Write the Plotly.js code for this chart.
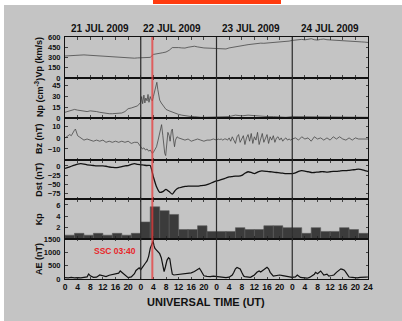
<!DOCTYPE html>
<html><head><meta charset="utf-8">
<script src="https://cdn.plot.ly/plotly-3.0.1.min.js"></script>
<style>html,body{margin:0;padding:0;background:#fff;}#chart{width:402px;height:321px;}</style>
</head><body><div id="chart"></div>
<script>
// ---- data ----
const dayLabels = ['21 JUL 2009','22 JUL 2009','23 JUL 2009','24 JUL 2009'];
const panelTitles = ['Vp (km/s)','Np (cm<sup>-3</sup>)','Bz (nT)','Dst (nT)','Kp','AE (nT)'];
const hourTicks = [0,4,8,12,16,20,24,28,32,36,40,44,48,52,56,60,64,68,72,76,80,84,88,92,96];
const hourTickText = ['0','4','8','12','16','20','0','4','8','12','16','20','0','4','8','12','16','20','0','4','8','12','16','20','24'];
const sscHour = 27.67;
const sscLabel = 'SSC 03:40';

const vpVals = [322,326,330,334,336,336,338,335,332,330,328,326,322,318,312,306,302,300,298,294,290,288,290,294,
296,298,300,302,345,350,358,370,380,405,445,450,445,440,438,450,462,465,455,445,440,438,435,430,
430,425,420,425,440,450,455,465,470,480,488,495,500,505,510,508,512,515,510,518,520,525,530,540,
550,555,560,565,558,570,575,560,555,565,570,560,558,550,555,545,548,540,545,540,535,530,528,525,520];

const npHours = [0,1,2,3,4,5,6,7,8,9,10,11,12,13,14,15,16,17,18,19,20,21,22,23,
24,24.3,24.6,25,25.3,25.6,26,26.3,26.6,27,27.3,27.67,28,28.4,28.8,29.1,29.4,29.7,30,30.5,31,31.5,32,
33,34,35,36,37,38,39,40,41,42,43,44,45,46,47,
48,50,52,54,56,58,60,62,64,66,68,70,72,74,76,78,80,82,84,86,88,90,92,94,96];
const npVals = [8,9,10,12,11,10,9,9,10,10,9,8,7,7,6,6,6,7,7,9,13,14,16,17,
22,30,20,32,21,28,24,33,22,30,26,24,30,38,46,50,40,32,25,21,18,14,12,
10,8,7,5,4,3,3,2,2,1,1,1,1,1,1,
1,1,2,4,3,4,3,2,2,2,1,1,2,2,1,2,2,1,2,2,1,2,2,1,1];

const bzHours = [0,0.5,1,1.5,2,2.5,3,3.3,3.6,4,4.5,5,6,7,8,9,10,11,12,13,14,15,16,17,18,19,20,21,22,23,
24,24.5,25,25.5,26,26.5,27,27.4,27.7,28,28.5,29,29.5,30,30.3,30.6,31,31.3,31.6,31.9,32.2,32.6,33,33.3,33.7,34,34.4,34.7,35,35.5,36,37,38,39,40,41,42,43,44,45,46,47,
48,48.5,49,49.5,50,50.5,51,51.5,52,52.5,53,53.5,54,54.5,55,55.5,56,56.5,57,57.5,58,58.5,59,59.5,
60,60.5,61,61.5,62,62.5,63,63.5,64,64.5,65,65.5,66,66.5,67,67.5,68,68.5,69,69.5,70,70.5,71,71.5,
72,73,74,75,76,77,78,79,80,81,82,83,84,85,86,87,88,89,90,91,92,93,94,95,96];
const bzVals = [0,1,2,3,2,5,7,8,5,2,1,0,-2,-1,-2,-3,-2,-3,-2,-4,-3,-4,-3,-4,-3,-4,-3,-5,-4,-4,
-8,-10,-9,-11,-10,-12,-11,-13,-14,-13,-11,-8,-2,4,9,12,2,-8,-14,-16,-6,5,2,-3,6,8,-2,-8,-2,1,0,-1,-2,-1,-3,-2,-1,-2,-3,-2,-2,-1,
-2,-1,-1.5,-1,-2,-1,-1,-2,0,-3,1,-2,-5,1,3,-4,-1,2,-6,0,3,-3,4,-5,
1,-2,5,-6,-1,4,-4,0,3,-5,1,-2,2,-4,0,1,-2,0,-3,-1,0,-2,-1,-2,
-1,0,-2,1,-1,0,-3,1,-1,0,-2,0,-2,1,-1,1,-1,-2,0,-2,0,-1,-1,-1,-1];

const dstVals = [-7,-4,-1,2,5,6,5,3,2,1,0,0,0,-1,-3,-4,-5,-4,-2,0,1,4,6,4,
3,2,1,1,-30,-57,-72,-70,-64,-70,-77,-66,-60,-58,-56,-55,-55,-55,-55,-54,-53,-51,-48,-44,
-41,-39,-36,-33,-30,-29,-28,-28,-26,-20,-16,-18,-21,-17,-14,-14,-15,-16,-17,-18,-19,-20,-21,-21,
-21,-19,-15,-13,-14,-16,-18,-18,-17,-16,-16,-17,-16,-15,-15,-14,-13,-13,-12,-11,-10,-9,-10,-13,-15];

const kpVals = [0.67,1,0.67,1,0.67,1,0.67,1,
3,5.67,5,4.33,1.67,1.67,2.33,1.33,
1.33,1.33,2,1.67,1.67,2.33,2.33,2,
2,1,2,1.33,1.33,2,1.67,1];

const aeHours = [0,1,2,3,4,5,6,7,7.5,8,9,10,11,12,13,14,15,16,17,17.5,18,19,20,21,22,22.5,23,23.5,
24,24.5,25,25.5,26,26.5,27,27.5,27.9,28.2,28.5,29,29.5,30,30.5,31,31.4,31.8,32.3,32.8,33.2,33.6,34,34.5,35,36,37,38,39,40,41,42,42.6,43,43.5,44,45,46,47,
48,49,50,51,52,53,53.5,54,54.5,55,55.5,56,56.6,57,58,58.7,59,60,60.8,61.5,62,63,63.5,64,64.5,65,66,67,68,69,70,71,
72,73,73.6,74.6,75.5,76.7,77.5,78.3,79,79.4,80,81,81.5,82,83,83.6,84.5,85.2,86,86.8,87.4,87.9,88.5,88.9,89.5,90,91,92,92.6,93.5,94.5,95.3,96];
const aeVals = [50,40,60,40,50,40,60,80,190,120,60,70,150,110,90,140,160,180,220,300,250,120,50,80,200,320,380,420,
350,420,520,600,680,850,1150,1300,1420,1250,1150,1080,1000,950,800,450,280,450,700,800,760,450,180,150,160,170,180,200,210,230,280,340,400,330,200,120,100,90,110,
100,80,60,50,70,150,250,380,430,400,375,250,110,90,70,60,80,150,250,300,260,350,420,440,380,250,110,120,150,130,100,70,
60,80,150,60,40,30,60,110,180,250,200,300,220,150,180,110,130,150,250,340,380,360,330,270,150,75,60,50,40,60,50,70,75];

// ---- chart ----
const vpHours = vpVals.map((_, i) => i);
const dstHours = dstVals.map((_, i) => i);
const kpHours = kpVals.map((_, i) => 1.5 + 3 * i);

const BG = '#c4c4c4';
const FONT = 'Liberation Sans, Arial, sans-serif';
const domains = [[0.8306,1],[0.6653,0.8306],[0.4917,0.6653],[0.3293,0.4917],[0.1653,0.3293],[0,0.1653]];
const yRanges = [[0,600],[0,56],[-20,18],[-91,16],[0,7],[0,1500]];
const yTicks = [[0,150,300,450,600],[0,15,30,45],[-10,0,10],[-75,-50,-25,0],[2,4,6],[0,500,1000,1500]];

const thin = {color:'#404040', width:0.75};
const traces = [
  {x: vpHours, y: vpVals, type:'scatter', mode:'lines', line: thin, xaxis:'x', yaxis:'y'},
  {x: npHours, y: npVals, type:'scatter', mode:'lines', line: thin, xaxis:'x2', yaxis:'y2'},
  {x: bzHours, y: bzVals, type:'scatter', mode:'lines', line: thin, xaxis:'x3', yaxis:'y3'},
  {x: dstHours, y: dstVals, type:'scatter', mode:'lines', line:{color:'#111', width:1.3, shape:'spline', smoothing:0.5}, xaxis:'x4', yaxis:'y4'},
  {x: kpHours, y: kpVals, type:'bar', width:3, marker:{color:'#3b3b3b', line:{color:'#5a5a5a', width:0.6}}, xaxis:'x5', yaxis:'y5'},
  {x: aeHours, y: aeVals, type:'scatter', mode:'lines', line:{color:'#111', width:1.2}, xaxis:'x6', yaxis:'y6'}
];

const layout = {
  width: 402, height: 321,
  margin: {l:65, r:34, t:37, b:42, pad:0},
  paper_bgcolor: '#ffffff', plot_bgcolor: 'rgba(0,0,0,0)',
  showlegend: false, bargap: 0,
  font: {family: FONT, color:'#111'},
  annotations: [], shapes: []
};
const W = 303, H = 242;
const px = v => (v - 65) / W;
const py = v => (279 - v) / H;

for (let i = 0; i < 6; i++) {
  const s = i === 0 ? '' : String(i + 1);
  layout['xaxis' + s] = {
    domain: [0,1], anchor: 'y' + s, range: [0,96], matches: i === 0 ? undefined : 'x',
    showline: true, linecolor:'#111', linewidth:1, mirror:'ticks',
    ticks:'inside', ticklen:2.5, tickcolor:'#222', tickwidth:0.8,
    tickvals: hourTicks, ticktext: hourTickText, showticklabels: i === 5,
    tickfont: {family: FONT, size: 8.5, color:'#111', weight:'bold'},
    showgrid:false, zeroline:false, fixedrange:true
  };
  layout['yaxis' + s] = {
    domain: domains[i], anchor: 'x' + s, range: yRanges[i],
    showline: true, linecolor:'#111', linewidth:1, mirror:'ticks',
    ticks:'inside', ticklen:2.5, tickcolor:'#222', tickwidth:0.8,
    tickvals: yTicks[i], tickfont: {family: FONT, size: 7.5, color:'#111', weight:'bold'},
    ticklabelstandoff: 2,
    showgrid:false, zeroline:false, fixedrange:true
  };
  layout.annotations.push({
    xref:'paper', yref:'paper', x: px(39), y: (domains[i][0] + domains[i][1]) / 2,
    text: panelTitles[i], textangle: -90, showarrow:false, xanchor:'center', yanchor:'middle',
    font: {family: FONT, size: 9, color:'#111', weight:'bold'}
  });
}

// day labels
const dayX = [100, 171.7, 251, 330];
dayLabels.forEach((t, i) => layout.annotations.push({
  xref:'paper', yref:'paper', x: px(dayX[i]), y: py(28), text: t, showarrow:false,
  xanchor:'center', yanchor:'middle', font:{family: FONT, size:10, color:'#111', weight:'bold'}
}));
// x title
layout.annotations.push({
  xref:'paper', yref:'paper', x: px(206), y: py(302), text:'UNIVERSAL TIME (UT)', showarrow:false,
  xanchor:'center', yanchor:'middle', font:{family: FONT, size:11, color:'#111', weight:'bold'}
});
// SSC label
layout.annotations.push({
  xref:'paper', yref:'paper', x: px(137.5), y: py(250.7), text: sscLabel, showarrow:false,
  xanchor:'right', yanchor:'middle', font:{family: FONT, size:8.5, color:'#e8262a', weight:'bold'}
});

// background gray panel and top red bar
layout.shapes.push({type:'rect', xref:'paper', yref:'paper', x0: px(4), x1: px(402), y0: py(321), y1: py(5),
  fillcolor: BG, line:{width:0}, layer:'below'});
layout.shapes.push({type:'rect', xref:'paper', yref:'paper', x0: px(153), x1: px(281), y0: py(4), y1: py(0),
  fillcolor: '#ff3b0f', line:{width:0}, layer:'above'});
// day dividers
[24, 48, 72].forEach(h => layout.shapes.push({type:'line', xref:'x', yref:'paper', x0:h, x1:h, y0:0, y1:1,
  line:{color:'#2a2a2a', width:1.2}, layer:'above'}));
// SSC line
layout.shapes.push({type:'line', xref:'x', yref:'paper', x0:sscHour, x1:sscHour, y0:0, y1:1,
  line:{color:'rgba(232,60,60,0.75)', width:2}, layer:'above'});

Plotly.newPlot('chart', traces, layout, {staticPlot:true, displayModeBar:false});
</script></body></html>
